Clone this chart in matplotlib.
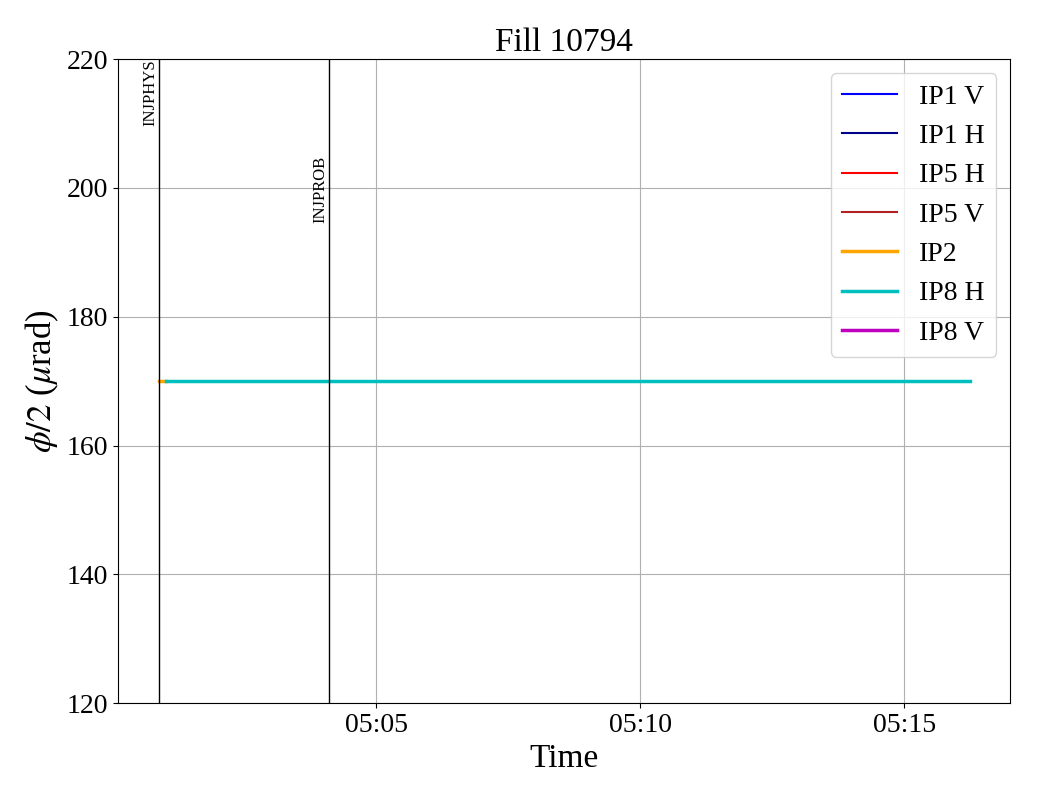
import matplotlib
matplotlib.use("Agg")
import matplotlib.pyplot as plt
import matplotlib.dates as mdates
import pandas as pd

plt.rcParams['font.family'] = ['Liberation Serif', 'DejaVu Serif']
plt.rcParams['mathtext.fontset'] = 'stix'

title = "Fill 10794"
ip2_times = pd.to_datetime(["2025-06-20 05:00:53", "2025-06-20 05:01:01"])
ip2_vals = [170, 170]
ip8h_times = pd.to_datetime(["2025-06-20 05:01:01", "2025-06-20 05:16:14"])
ip8h_vals = [170, 170]
event_times = pd.to_datetime(["2025-06-20 05:00:53", "2025-06-20 05:04:06"])
event_labels = ["INJPHYS", "INJPROB"]
event_label_y = [220, 205]

fig = plt.figure(figsize=(10.4, 8), dpi=100)
ax = fig.add_axes([0.1135, 0.121, 0.8577, 0.805])

ax.plot([], [], color='blue', lw=1.5, label='IP1 V')
ax.plot([], [], color='darkblue', lw=1.5, label='IP1 H')
ax.plot([], [], color='red', lw=1.5, label='IP5 H')
ax.plot([], [], color='firebrick', lw=1.5, label='IP5 V')
ax.plot(ip2_times, ip2_vals, color='orange', lw=2.5, label='IP2')
ax.plot(ip8h_times, ip8h_vals, color='c', lw=2.5, label='IP8 H')
ax.plot([], [], color='m', lw=2.5, label='IP8 V')

for t, lab, yy in zip(event_times, event_labels, event_label_y):
    ax.axvline(t, color='black', lw=1)
    ax.text(t, yy, lab, rotation=90, ha='right', va='top', fontsize=12)

ax.set_ylim(120, 220)
ax.set_yticks([120, 140, 160, 180, 200, 220])
t0 = ip2_times[0]
t1 = ip8h_times[-1]
span = t1 - t0
ax.set_xlim(t0 - span * 0.05, t1 + span * 0.05)
ax.xaxis.set_major_locator(mdates.MinuteLocator(byminute=range(0, 60, 5)))
ax.xaxis.set_major_formatter(mdates.DateFormatter('%H:%M'))
ax.tick_params(labelsize=20)
ax.grid(True)
ax.set_xlabel('Time', fontsize=24)
ax.set_ylabel(r'$\phi/2$ ($\mu$rad)', fontsize=25)
ax.set_title(title, fontsize=24)
ax.legend(loc='upper right', fontsize=20)

fig.savefig('out.png', dpi=100)
